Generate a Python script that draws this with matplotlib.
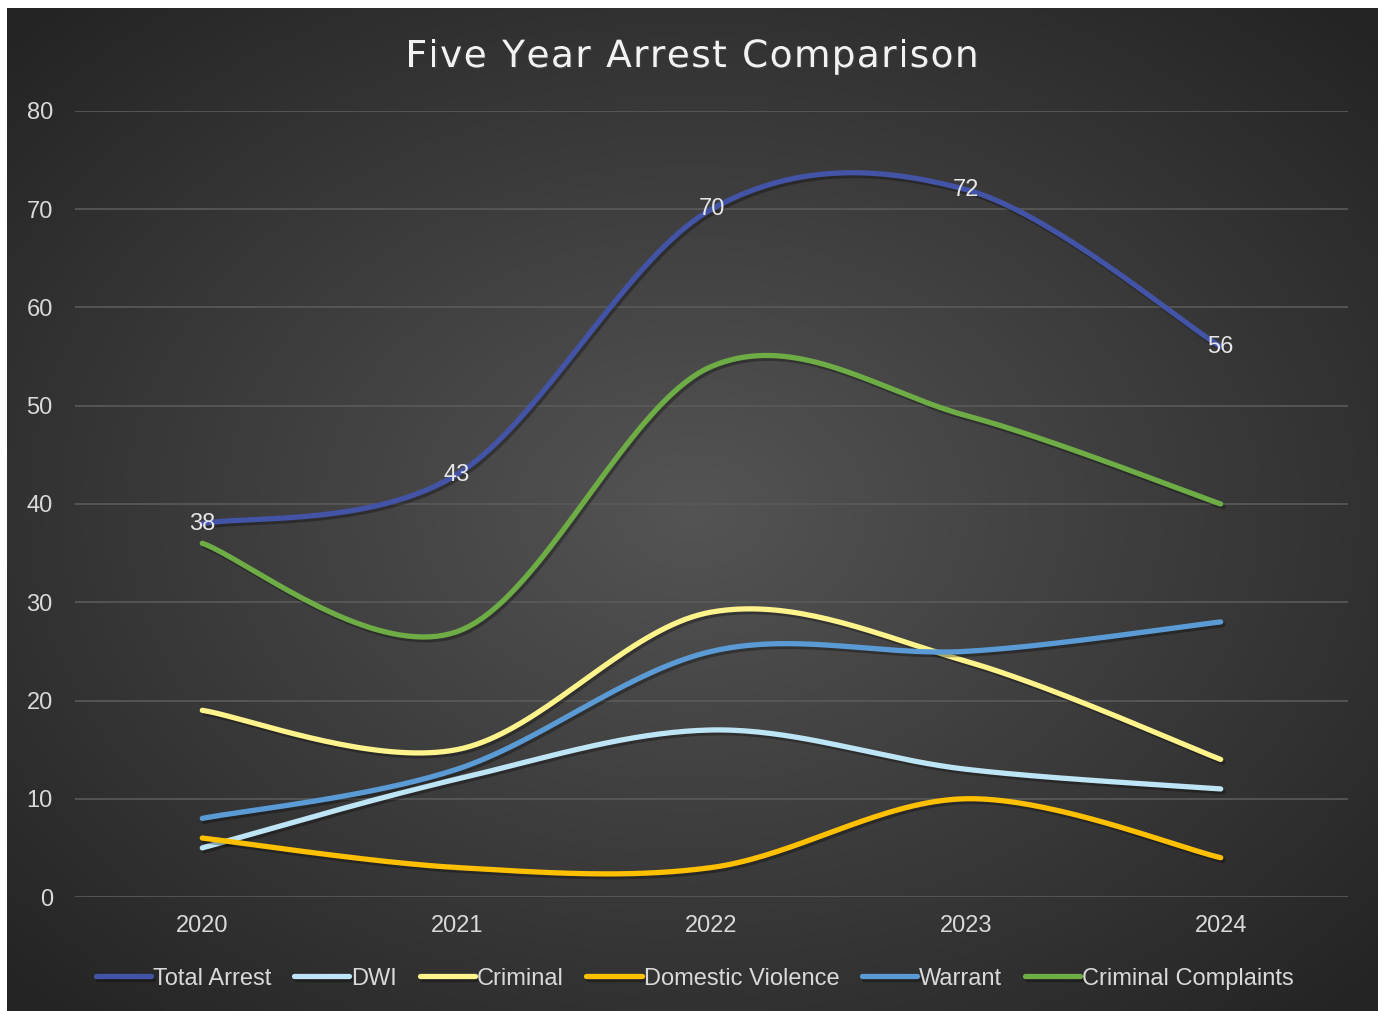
import numpy as np
import matplotlib
matplotlib.use("Agg")
import matplotlib.pyplot as plt
import matplotlib.patheffects as pe

years = ["2020", "2021", "2022", "2023", "2024"]
total_arrest = [38, 43, 70, 72, 56]
dwi = [5, 12, 17, 13, 11]
criminal = [19, 15, 29, 24, 14]
domestic_violence = [6, 3, 3, 10, 4]
warrant = [8, 13, 25, 25, 28]
criminal_complaints = [36, 27, 54, 49, 40]

series = [
    ("Total Arrest", total_arrest, "#4353A6"),
    ("DWI", dwi, "#BDE5F5"),
    ("Criminal", criminal, "#FFF38C"),
    ("Domestic Violence", domestic_violence, "#FFC000"),
    ("Warrant", warrant, "#5B9BD5"),
    ("Criminal Complaints", criminal_complaints, "#6EAD45"),
]

TITLE = "Five Year Arrest Comparison"


def smooth(vals, n=40):
    # catmull-rom, like excel's smoothed line
    y = np.asarray(vals, dtype=float)
    x = np.arange(len(y), dtype=float)
    yp = np.concatenate([[y[0]], y, [y[-1]]])
    xp = np.concatenate([[x[0]], x, [x[-1]]])
    xs, ys = [], []
    for i in range(len(y) - 1):
        t = np.linspace(0, 1, n)
        p0, p1, p2, p3 = yp[i], yp[i + 1], yp[i + 2], yp[i + 3]
        q0, q1, q2, q3 = xp[i], xp[i + 1], xp[i + 2], xp[i + 3]
        m1, m2 = (p2 - p0) / 2, (p3 - p1) / 2
        k1, k2 = (q2 - q0) / 2, (q3 - q1) / 2
        h00 = 2 * t**3 - 3 * t**2 + 1
        h10 = t**3 - 2 * t**2 + t
        h01 = -2 * t**3 + 3 * t**2
        h11 = t**3 - t**2
        ys.append(h00 * p1 + h10 * m1 + h01 * p2 + h11 * m2)
        xs.append(h00 * q1 + h10 * k1 + h01 * q2 + h11 * k2)
    return np.concatenate(xs), np.concatenate(ys)


def spaced_title(fig, text, y, width_px, **kw):
    # draw text letter by letter so it can be spread out like the original
    renderer = fig.canvas.get_renderer()
    W = fig.get_figwidth() * fig.dpi
    widths = []
    for ch in text:
        t = fig.text(0, 0, ch if ch != " " else "a", **kw)
        widths.append(t.get_window_extent(renderer).width * (0.55 if ch == " " else 1))
        t.remove()
    gap = (width_px - sum(widths)) / (len(text) - 1)
    x = (W - width_px) / 2
    for ch, w in zip(text, widths):
        if ch != " ":
            fig.text(x / W, y, ch, ha="left", va="baseline", **kw)
        x += w + gap


plt.rcParams["font.family"] = ["Liberation Sans", "DejaVu Sans"]

fig = plt.figure(figsize=(13.84, 10.11), dpi=100)
fig.patch.set_facecolor("white")

# chart area background, radial gradient
bg = fig.add_axes([7 / 1384, 0, 1371 / 1384, 1003 / 1011])
gx, gy = np.meshgrid(np.linspace(-1, 1, 400), np.linspace(-1, 1, 300))
r = np.sqrt(gx ** 2 + gy ** 2)
r = np.clip(r / 1.35, 0, 1)
shade = 0.33 - 0.185 * r
img = np.dstack([shade, shade, shade])
bg.imshow(img, extent=[0, 1, 0, 1], aspect="auto", interpolation="bilinear")
bg.set_axis_off()

ax = fig.add_axes([75 / 1384, 114 / 1011, 1273 / 1384, 786 / 1011])
ax.set_facecolor("none")
for s in ax.spines.values():
    s.set_visible(False)

ax.set_xlim(-0.5, 4.5)
ax.set_ylim(0, 80)
ax.set_yticks(range(0, 81, 10))
ax.set_xticks(range(len(years)))
ax.set_xticklabels(years)
ax.grid(axis="y", color="#5a5a5a", linewidth=1.2)
ax.set_axisbelow(True)
ax.tick_params(length=0, colors="#d9d9d9", labelsize=17)
ax.tick_params(axis="y", pad=16)
ax.tick_params(axis="x", pad=13)

shadow = [pe.SimpleLineShadow(offset=(1.5, -2), shadow_color="black", alpha=0.3), pe.Normal()]
for name, vals, color in series:
    sx, sy = smooth(vals)
    ax.plot(sx, sy, color=color, linewidth=3.8, solid_capstyle="round",
            label=name, path_effects=shadow)

for i, v in enumerate(total_arrest):
    ax.text(i, v, str(v), color="#e6e6e6", fontsize=17, ha="center", va="center")

spaced_title(fig, TITLE, (1011 - 67) / 1011, 573, color="#f2f2f2", fontsize=27,
             family=["DejaVu Sans"],
             path_effects=[pe.withSimplePatchShadow(offset=(1, -1), alpha=0.5)])

leg = fig.legend(loc="center", bbox_to_anchor=(0.502, 0.032), ncol=6, frameon=False,
                 prop={"family": ["Liberation Sans Narrow", "Liberation Sans"], "size": 17},
                 handlelength=2.35, handletextpad=0.08, columnspacing=0.95)
for t in leg.get_texts():
    t.set_color("#d9d9d9")

fig.savefig("out.png", dpi=100, facecolor=fig.get_facecolor())
